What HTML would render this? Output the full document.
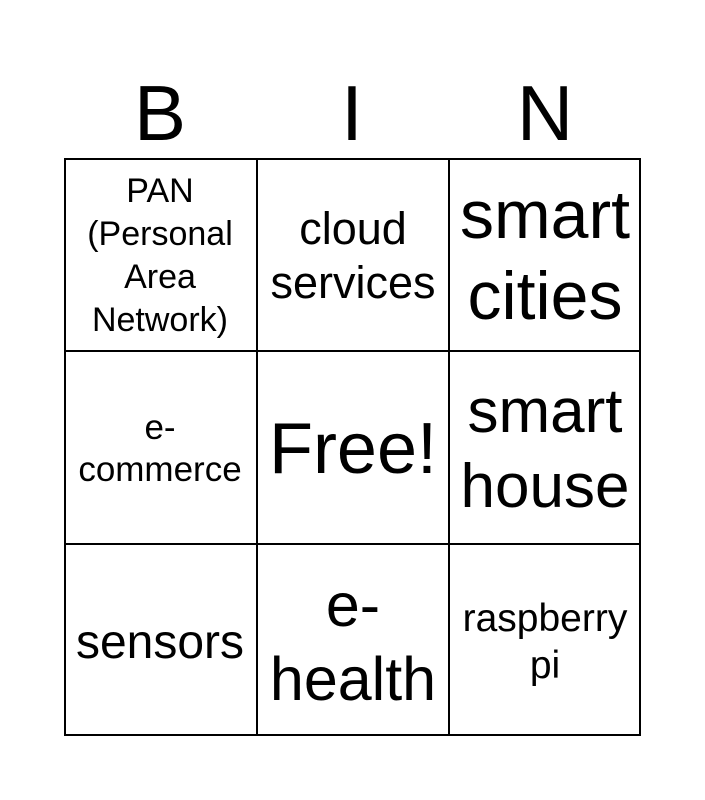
<!DOCTYPE html>
<html><head><style>
body{margin:0;background:#fff;width:705px;height:800px;position:relative;font-family:"Liberation Sans",Arial,sans-serif;overflow:hidden}
.h{position:absolute;top:68px;font-size:78px;line-height:90px;width:192px;text-align:center}
.grid{position:absolute;left:64px;top:158px;width:577px;height:578px;border:2px solid #000;box-sizing:border-box}
.c{position:absolute;display:flex;align-items:center;justify-content:center;text-align:center;width:192px;height:192px;box-sizing:border-box;white-space:nowrap;padding-top:4px}
.vl{position:absolute;top:158px;width:2px;height:578px;background:#000}
.hl{position:absolute;left:64px;height:2px;width:577px;background:#000}
</style></head><body>
<div class="h" style="left:64px">B</div>
<div class="h" style="left:256px">I</div>
<div class="h" style="left:449px">N</div>
<div class="grid"></div>
<div class="vl" style="left:256px"></div><div class="vl" style="left:448px"></div>
<div class="hl" style="top:350px"></div><div class="hl" style="top:543px"></div>

<div class="c" style="left:64px;top:158px;font-size:34px;line-height:43px">PAN<br>(Personal<br>Area<br>Network)</div>
<div class="c" style="left:257px;top:158px;font-size:45px;line-height:54px">cloud<br>services</div>
<div class="c" style="left:449px;top:158px;font-size:68px;line-height:81px">smart<br>cities</div>

<div class="c" style="left:64px;top:351px;font-size:35px;line-height:42px">e-<br>commerce</div>
<div class="c" style="left:257px;top:351px;font-size:72px">Free!</div>
<div class="c" style="left:449px;top:351px;font-size:62px;line-height:75px">smart<br>house</div>

<div class="c" style="left:64px;top:544px;font-size:48px">sensors</div>
<div class="c" style="left:257px;top:544px;font-size:61px;line-height:74px">e-<br>health</div>
<div class="c" style="left:449px;top:544px;font-size:39px;line-height:47px">raspberry<br>pi</div>
</body></html>
